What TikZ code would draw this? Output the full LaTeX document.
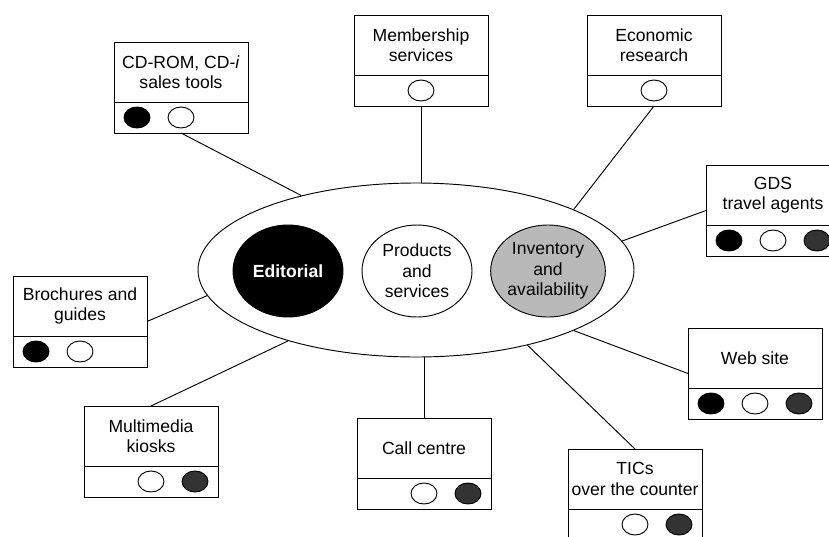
\documentclass[tikz,border=0pt]{standalone}
\usepackage{fontspec}
\setmainfont{Liberation Sans}
\usetikzlibrary{shapes.geometric,positioning,calc}

\tikzset{
  box/.style={draw,fill=white,outer sep=0pt,inner sep=1pt,minimum width=40.2mm,minimum height=18mm,align=center},
  strip/.style={draw,outer sep=0pt,minimum width=40.2mm,minimum height=9.3mm,below=0pt of #1},
  dot/.style={ellipse,draw,inner sep=0pt,minimum width=7.8mm,minimum height=6.3mm},
  ed/.style={fill=black},
  pr/.style={fill=white},
  inv/.style={fill=black!80},
}

\begin{document}
\begin{tikzpicture}[x=0.3mm,y=-0.3mm,line width=0.8pt,font=\fontsize{15}{17.5}\selectfont]

        \path[fill=white,use as bounding box] (0,0) rectangle (829,536);

        % the core
        \node[ellipse,draw,minimum width=130.8mm,minimum height=52.2mm] (hub) at (416,270) {};
        \begin{scope}[every node/.style={ellipse,draw,inner sep=0pt,minimum width=33mm,minimum height=27.6mm,align=center}]
          \node[fill=black,text=white,font=\fontsize{15}{17.5}\selectfont\bfseries] (edit) at (288,271) {Editorial};
          \node (prod) at (417,271) {Products\\and\\services};
          \node[fill=gray!55] (inv) at (548,271) {Inventory\\and\\availability};
        \end{scope}

        % channels
        \begin{scope}[every node/.style={box}]
          \node (cd)   at (181,72)  {CD-ROM, CD-\textit{i}\\sales tools};
          \node (mem)  at (421,45)  {Membership\\services};
          \node (eco)  at (654,45)  {Economic\\research};
          \node (gds)  at (773,195) {GDS\\travel agents};
          \node (bro)  at (80,306)  {Brochures and\\guides};
          \node (mul)  at (151,436) {Multimedia\\kiosks};
          \node (call) at (424,448) {Call centre};
          \node (tic)  at (635,479) {TICs\\over the counter};
          \node (web)  at (755,358) {Web site};
        \end{scope}

        \node[strip=cd]   (cd-s)   {};
        \node[strip=mem]  (mem-s)  {};
        \node[strip=eco]  (eco-s)  {};
        \node[strip=gds]  (gds-s)  {};
        \node[strip=bro]  (bro-s)  {};
        \node[strip=mul]  (mul-s)  {};
        \node[strip=call] (call-s) {};
        \node[strip=tic]  (tic-s)  {};
        \node[strip=web]  (web-s)  {};

        % which database feeds which channel
        \node[dot,ed]  (cd-1)   at ($(cd-s.center)+(-44,0)$)   {};
        \node[dot,pr]  (cd-2)   at (cd-s.center)               {};
        \node[dot,pr]  (mem-2)  at (mem-s.center)              {};
        \node[dot,pr]  (eco-2)  at (eco-s.center)              {};
        \node[dot,ed]  (gds-1)  at ($(gds-s.center)+(-44,0)$)  {};
        \node[dot,pr]  (gds-2)  at (gds-s.center)              {};
        \node[dot,inv] (gds-3)  at ($(gds-s.center)+(44,0)$)   {};
        \node[dot,ed]  (bro-1)  at ($(bro-s.center)+(-44,0)$)  {};
        \node[dot,pr]  (bro-2)  at (bro-s.center)              {};
        \node[dot,pr]  (mul-2)  at (mul-s.center)              {};
        \node[dot,inv] (mul-3)  at ($(mul-s.center)+(44,0)$)   {};
        \node[dot,pr]  (call-2) at (call-s.center)             {};
        \node[dot,inv] (call-3) at ($(call-s.center)+(44,0)$)  {};
        \node[dot,pr]  (tic-2)  at (tic-s.center)              {};
        \node[dot,inv] (tic-3)  at ($(tic-s.center)+(44,0)$)   {};
        \node[dot,ed]  (web-1)  at ($(web-s.center)+(-44,0)$)  {};
        \node[dot,pr]  (web-2)  at (web-s.center)              {};
        \node[dot,inv] (web-3)  at ($(web-s.center)+(44,0)$)   {};

        \draw (cd-s.south) -- (hub.147);
        \draw (mem-s.south) -- (mem-s.south |- hub.north);
        \draw (eco-s.south) -- (hub.21);
        \draw ($(gds.north west)!.5!(gds-s.south west)$) -- (hub.8.5);
        \draw ($(web.north west)!.5!(web-s.south west)$) -- (hub.-21.6);
        \draw ($(bro.north east)!.5!(bro-s.south east)$) -- (hub.187);
        \draw (mul.north) -- (hub.209.5);
        \draw (call.north) -- (call.north |- hub.south);
        \draw (tic.north) -- (hub.-34);

      \end{tikzpicture}
\end{document}
